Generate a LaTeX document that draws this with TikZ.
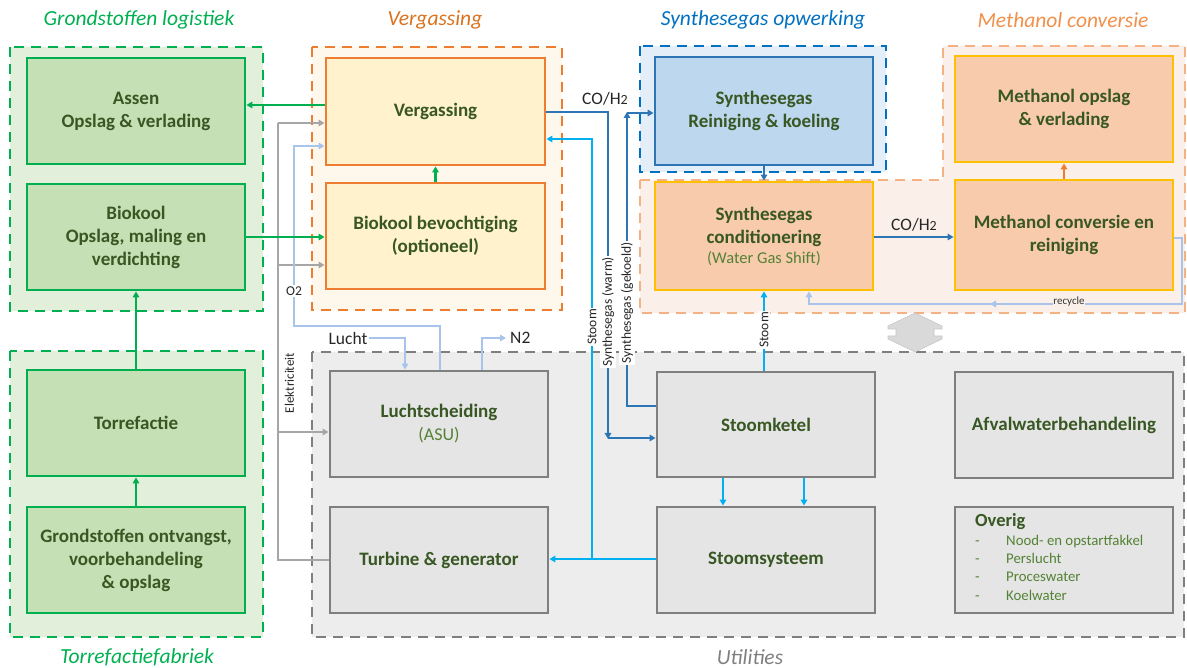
\documentclass[tikz,border=0pt]{standalone}
\usepackage{fontspec}
\setmainfont{Carlito}
\usetikzlibrary{arrows.meta}
\definecolor{cgreen}{HTML}{00B050}
\definecolor{cgreenbg}{HTML}{E2EFDA}
\definecolor{cgreenbox}{HTML}{C5E0B4}
\definecolor{corange}{HTML}{ED7D31}
\definecolor{corangebg}{HTML}{FEF8EC}
\definecolor{cyellowbox}{HTML}{FFF2CC}
\definecolor{cblue}{HTML}{0070C0}
\definecolor{cbluebg}{HTML}{E4EEF8}
\definecolor{cbluebox}{HTML}{BDD7EE}
\definecolor{cblueborder}{HTML}{2E75B6}
\definecolor{cpeach}{HTML}{F4B183}
\definecolor{cpeachbg}{HTML}{FBF0E9}
\definecolor{cpeachbox}{HTML}{F8CBAD}
\definecolor{cgold}{HTML}{FFC000}
\definecolor{cgray}{HTML}{7F7F7F}
\definecolor{cgraybg}{HTML}{EDEDED}
\definecolor{cgraybox}{HTML}{E5E5E5}
\definecolor{csteam}{HTML}{00B0F0}
\definecolor{cgas}{HTML}{2E75B6}
\definecolor{cair}{HTML}{A9C4EB}
\definecolor{celec}{HTML}{A6A6A6}
\definecolor{ctext}{HTML}{385723}
\definecolor{ctextl}{HTML}{548235}
\definecolor{ctorange}{HTML}{D9731F}
\definecolor{ctpeach}{HTML}{F0904A}
\definecolor{cblock}{HTML}{D9D9D9}
\newcommand\bxf{\fontsize{19}{23}\selectfont\bfseries}
\newcommand\ttf{\fontsize{21.5}{25}\selectfont\itshape}
\newcommand\lblf{\fontsize{13.5}{15}\selectfont}
\newcommand\midf{\fontsize{17.5}{20}\selectfont}
\begin{document}
\begin{tikzpicture}[x=1pt,y=-1pt,
  grp/.style={line width=2.6pt, dash pattern=on 10pt off 7pt},
  box/.style={rectangle, line width=2.8pt, minimum width=218pt, minimum height=106pt,
              align=center, text=ctext, font=\bxf, inner sep=2pt},
  gbox/.style={box, draw=cgreen, fill=cgreenbox},
  obox/.style={box, draw=corange, fill=cyellowbox},
  bbox/.style={box, draw=cblueborder, fill=cbluebox},
  pbox/.style={box, draw=cgold, fill=cpeachbox},
  ubox/.style={box, draw=cgray, fill=cgraybox},
  tip/.style={-{Triangle[length=6pt,width=6.5pt]}},
  gline/.style={tip, draw=cgreen, line width=2.4pt},
  eline/.style={draw=celec, line width=1.8pt},
  aline/.style={draw=cair, line width=2pt},
  sline/.style={draw=csteam, line width=2pt},
  dline/.style={draw=cgas, line width=2.4pt},
  vlbl/.style={rotate=90, fill=white, inner sep=1.5pt, font=\lblf, text=black!85},
  ttl/.style={font=\ttf}
]
\useasboundingbox (0,0) rectangle (1187,668);

% ---------- groups ----------
\draw[grp, draw=cgreen, fill=cgreenbg] (10,47) rectangle (263,311);
\draw[grp, draw=cgreen, fill=cgreenbg] (10,351) rectangle (263,637);
\draw[grp, draw=corange, fill=corangebg] (312,47) rectangle (562,310);
\draw[grp, draw=cblue, fill=cbluebg] (640,46) rectangle (886,172);
\draw[grp, draw=cpeach, fill=cpeachbg] (640,180) -- (943,180) -- (943,46) -- (1185,46) -- (1185,313) -- (640,313) -- cycle;
\draw[grp, draw=cgray, fill=cgraybg] (312,352) rectangle (1184,637);

% ---------- titles ----------
\node[ttl, text=cgreen] (t1) at (139,20) {Grondstoffen logistiek};
\node[ttl, text=ctorange] (t2) at (435,20) {Vergassing};
\node[ttl, text=cblue] (t3) at (763,20) {Synthesegas opwerking};
\node[ttl, text=ctpeach] (t4) at (1063,20) {Methanol conversie};
\node[ttl, text=cgreen] (t5) at (137,657) {Torrefactiefabriek};
\node[ttl, text=cgray] (t6) at (750,657) {Utilities};

% ---------- boxes ----------
\node[gbox] (assen) at (136,111) {Assen\\Opslag \& verlading};
\node[gbox] (biokool) at (136,237) {Biokool\\Opslag, maling en\\verdichting};
\node[gbox] (torr) at (136,423) {Torrefactie};
\node[gbox] (grond) at (136,560) {Grondstoffen ontvangst,\\voorbehandeling\\\& opslag};
\node[obox, minimum width=219pt, minimum height=107pt] (verg) at (435.5,111.5) {Vergassing};
\node[obox, minimum width=219pt] (bev) at (435.5,236) {Biokool bevochtiging\\(optioneel)};
\node[bbox, minimum height=108pt] (rein) at (764,111) {Synthesegas\\Reiniging \& koeling};
\node[pbox, minimum height=108pt] (cond) at (764,236) {Synthesegas\\conditionering\\[-3pt]{\mdseries\fontsize{16.5}{19}\selectfont\color{ctextl}(Water Gas Shift)}};
\node[pbox] (mopslag) at (1064,109) {Methanol opslag\\\& verlading};
\node[pbox, minimum height=110pt] (mconv) at (1064,235) {Methanol conversie en\\reiniging};
\node[ubox] (asu) at (439,424) {Luchtscheiding\\{\mdseries\fontsize{18}{23}\selectfont\color{ctextl}(ASU)}};
\node[ubox] (turb) at (439,560) {Turbine \& generator};
\node[ubox, minimum height=105pt] (ketel) at (766,424.5) {Stoomketel};
\node[ubox] (stsys) at (766,560) {Stoomsysteem};
\node[ubox] (afval) at (1064,425) {Afvalwaterbehandeling};
\node[ubox] (overig) at (1064,560) {};
\node[anchor=north west, inner sep=0pt, align=left, text=ctext, font={\fontsize{18.5}{22}\selectfont\bfseries}] (ovt) at (975,513) {Overig};
\node[anchor=north west, inner sep=0pt, align=left, text=ctextl, font={\fontsize{14.8}{18.2}\selectfont}] (ovl) at (975,535)
  {\makebox[31pt][l]{-}Nood- en opstartfakkel\\\makebox[31pt][l]{-}Perslucht\\\makebox[31pt][l]{-}Proceswater\\\makebox[31pt][l]{-}Koelwater};

% ---------- electricity (gray) ----------
\draw[eline] (turb.west |- 0,560) -- (278,560) -- (278,123);
\draw[eline, tip] (278,123) -- (verg.west |- 0,123);
\draw[eline, tip] (278,265) -- (bev.west |- 0,265);
\draw[eline, tip] (278,432) -- (asu.west |- 0,432);
\node[vlbl] (elek) at (289.5,383) {\fontsize{13}{15}\selectfont Elektriciteit};

% ---------- air / O2 / N2 ----------
\draw[aline, tip] (asu.north -| 440,0) -- (440,326) -- (294,326) -- (294,146) -- (verg.west |- 0,146);
\node[fill=white, inner sep=1.5pt, font=\lblf, text=black!85] (o2) at (294,291) {O2};
\node[font=\midf, text=black!85, inner sep=1pt] (lucht) at (348,338) {Lucht};
\draw[aline, tip] (lucht.east) -- (405,338) -- (asu.north -| 405,0);
\coordinate (n2end) at (506,338);
\draw[aline, tip] (asu.north -| 482,0) -- (482,338) -- (n2end);
\node[font=\midf, text=black!85, anchor=west, inner sep=1pt] (n2) at (509,338) {N2};

% ---------- green flows ----------
\draw[gline] (verg.west |- 0,105) -- (assen.east |- 0,105);
\draw[gline] (biokool.east |- 0,237) -- (bev.west |- 0,237);
\draw[gline] (bev.north) -- (verg.south);
\draw[gline] (torr.north) -- (biokool.south);
\draw[gline] (grond.north) -- (torr.south);

% ---------- steam ----------
\draw[sline, tip] (stsys.west |- 0,559) -- (turb.east |- 0,559);
\draw[sline, tip] (592,559) -- (592,139) -- (verg.east |- 0,139);
\node[vlbl] (stoom1) at (592,327) {Stoom};
\draw[sline, tip] (ketel.north -| 764,0) -- (cond.south -| 764,0);
\node[vlbl] (stoom2) at (764,330) {Stoom};
\draw[sline, tip] (ketel.south -| 723,0) -- (stsys.north -| 723,0);
\draw[sline, tip] (ketel.south -| 804,0) -- (stsys.north -| 804,0);

% ---------- syngas ----------
\draw[dline, tip] (verg.east |- 0,112) -- (608,112) -- (608,439);
\draw[dline, tip] (608,438) -- (ketel.west |- 0,438);
\node[vlbl] (warm) at (608,312) {Synthesegas (warm)};
\draw[dline, tip] (ketel.west |- 0,406) -- (627,406) -- (627,112);
\draw[dline, tip] (627,113) -- (rein.west |- 0,113);
\node[vlbl] (gek) at (627,303) {Synthesegas (gekoeld)};
\node[font=\midf, text=black!85, inner sep=0pt] (coh1) at (605,99) {CO/H{\fontsize{14}{15}\selectfont 2}};
\draw[dline, tip] (rein.south) -- (cond.north);
\draw[dline, tip] (cond.east |- 0,237) -- (mconv.west |- 0,237);
\node[font=\midf, text=black!85, inner sep=0pt] (coh2) at (914,225) {CO/H{\fontsize{14}{15}\selectfont 2}};
\draw[draw=corange, line width=2.4pt, tip] (mconv.north) -- (mopslag.south);

% ---------- recycle ----------
\draw[aline, tip] (mconv.east |- 0,238) -- (1182,238) -- (1182,304) -- (809,304) -- (cond.south -| 809,0);
\draw[aline, tip] (1000,304) -- (990,304);
\node[fill=cpeachbg, inner sep=0.5pt, font={\fontsize{11}{12}\selectfont}, text=black!80] (rec) at (1069,302) {recycle};

% ---------- block double arrow ----------
\draw[fill=cblock, draw=cblock!80!gray, line width=0.6pt]
  (915,313) -- (942,326) -- (942,329) -- (934,329) -- (934,336) -- (942,336) -- (942,339)
  -- (915,352) -- (888,339) -- (888,336) -- (896,336) -- (896,329) -- (888,329) -- (888,326) -- cycle;
\end{tikzpicture}
\end{document}
